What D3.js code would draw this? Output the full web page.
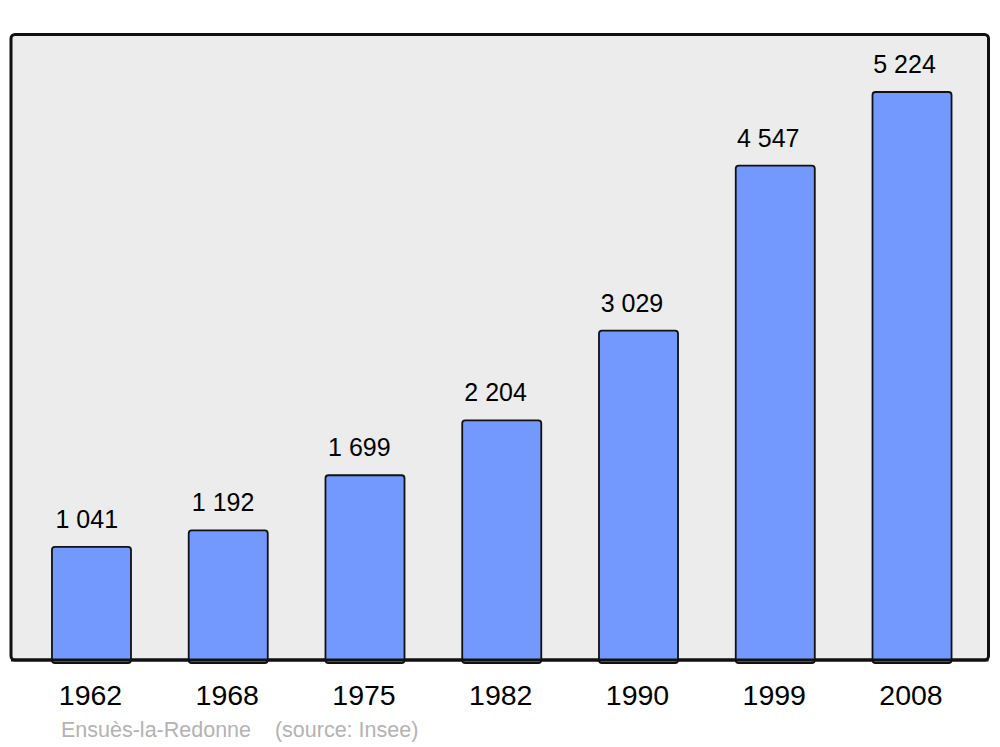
<!DOCTYPE html>
<html>
<head>
<meta charset="utf-8">
<script src="https://cdn.jsdelivr.net/npm/d3@7"></script>
<style>
  html, body { margin: 0; padding: 0; background: #fff; }
  svg { display: block; font-family: "Liberation Sans", Arial, sans-serif; }
</style>
</head>
<body>
<svg id="chart" width="1000" height="747"></svg>
<script>
const years = ["1962", "1968", "1975", "1982", "1990", "1999", "2008"];
const population = [1041, 1192, 1699, 2204, 3029, 4547, 5224];
const valueLabels = ["1 041", "1 192", "1 699", "2 204", "3 029", "4 547", "5 224"];
const footerText = "Ensuès-la-Redonne    (source: Insee)";

const svg = d3.select("#chart");

// panel
svg.append("rect")
  .attr("x", 11).attr("y", 34.5)
  .attr("width", 977.5).attr("height", 625.5)
  .attr("rx", 4).attr("ry", 4)
  .attr("fill", "#ececec")
  .attr("stroke", "#111")
  .attr("stroke-width", 3);

const x = d3.scaleBand()
  .domain(years)
  .range([23.1, 980.4])
  .paddingInner(0.422)
  .paddingOuter(0.211);

// value-label positions (slightly tighter spacing than the bars, as in the reference)
const xLabel = d3.scalePoint()
  .domain(years)
  .range([86.8, 904.5]);

const y = d3.scaleLinear()
  .domain([0, 5224])
  .range([660, 92]);

const data = years.map((yr, i) => ({ year: yr, value: population[i], label: valueLabels[i] }));

svg.append("g").selectAll("rect")
  .data(data)
  .join("rect")
  .attr("x", d => x(d.year))
  .attr("y", d => y(d.value))
  .attr("width", x.bandwidth())
  .attr("height", d => y(0) - y(d.value) + 3)
  .attr("rx", 3).attr("ry", 3)
  .attr("fill", "#7399ff")
  .attr("stroke", "#111")
  .attr("stroke-width", 1.8);

// redraw bottom border line over bars
svg.append("line")
  .attr("x1", 11).attr("x2", 988.5)
  .attr("y1", 660).attr("y2", 660)
  .attr("stroke", "#111").attr("stroke-width", 3);

svg.append("g").selectAll("text")
  .data(data)
  .join("text")
  .attr("x", d => xLabel(d.year))
  .attr("y", d => y(d.value) - 19)
  .attr("text-anchor", "middle")
  .attr("font-size", 25)
  .attr("fill", "#000")
  .text(d => d.label);

// x axis labels
const xAxis = d3.axisBottom(x).tickSize(0).tickPadding(0);
const gx = svg.append("g").attr("transform", "translate(-1,683.5)").call(xAxis);
gx.select(".domain").remove();
gx.selectAll("text")
  .attr("font-size", 28.5)
  .attr("fill", "#000")
  .attr("font-family", "'Liberation Sans', Arial, sans-serif")
  .attr("dy", "0.75em");

svg.append("text")
  .attr("x", 61).attr("y", 737)
  .attr("font-size", 21.5)
  .attr("fill", "#b3b3b3")
  .style("white-space", "pre")
  .text(footerText);
</script>
</body>
</html>
